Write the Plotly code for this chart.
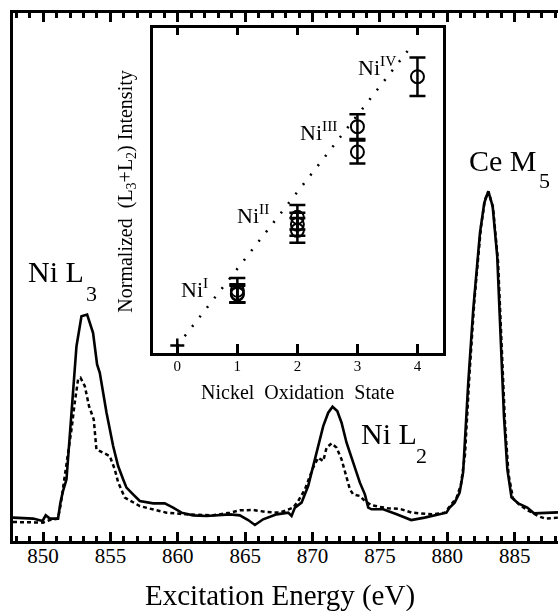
import plotly.graph_objects as go

# ---------------- main spectra (arbitrary intensity units) ----------------
solid_E = [847.77, 849.26, 849.96, 850.20, 850.50, 851.11, 851.29, 851.48, 851.74, 852.11,
           852.48, 852.85, 853.27, 853.71, 854.01, 854.21, 854.71, 855.20, 855.57, 855.94,
           856.19, 856.68, 857.18, 858.17, 859.03, 859.65, 860.27, 861.14, 862.13, 863.86,
           864.60, 865.22, 865.72, 866.33, 867.33, 868.19, 868.44, 868.69, 869.18, 869.67,
           870.04, 870.42, 870.79, 871.16, 871.48, 871.83, 872.15, 872.52, 873.01, 873.51,
           873.88, 874.13, 874.38, 875.24, 876.24, 877.32, 878.31, 879.55, 879.93, 880.17,
           880.54, 880.91, 881.17, 881.55, 881.92, 882.42, 882.74, 883.04, 883.36, 883.70,
           883.96, 884.20, 884.45, 884.76, 885.26, 885.93, 886.43, 887.22, 888.21]
solid_I = [4.43, 4.24, 3.79, 4.86, 4.24, 4.24, 7.27, 9.46, 11.68, 24.30,
           36.90, 42.58, 42.90, 39.44, 33.44, 31.87, 24.30, 17.98, 14.19, 11.68,
           10.11, 8.84, 7.57, 7.13, 7.13, 6.32, 5.37, 4.86, 4.73, 5.05,
           4.86, 3.97, 3.03, 4.11, 5.05, 5.37, 4.73, 6.32, 7.27, 10.41,
           14.19, 17.98, 21.76, 24.30, 25.43, 24.60, 22.41, 18.62, 14.84, 11.05,
           8.84, 6.32, 6.00, 6.00, 5.05, 3.97, 4.43, 5.19, 5.37, 6.32,
           7.27, 9.16, 13.00, 29.98, 43.85, 58.36, 64.04, 66.24, 63.40, 53.94,
           39.44, 23.66, 13.57, 8.27, 7.10, 6.32, 5.24, 5.37, 5.43]

dashed_E = [847.77, 849.26, 850.00, 850.50, 851.11, 851.31, 851.74, 852.11, 852.35, 852.60,
            852.78, 853.10, 853.41, 853.76, 853.96, 854.45, 854.95, 855.32, 855.57, 856.07,
            856.56, 857.18, 857.92, 859.16, 860.65, 862.62, 863.86, 864.60, 865.59, 866.58,
            867.57, 868.56, 868.93, 869.43, 870.04, 870.42, 870.79, 871.04, 871.41, 871.78,
            872.15, 872.52, 872.77, 873.01, 873.51, 873.88, 874.38, 875.59, 876.48, 877.37,
            878.86, 879.82, 880.23, 880.69, 881.01, 881.31, 881.64, 882.01, 882.49, 882.79,
            883.05, 883.39, 883.76, 884.02, 884.28, 884.54, 884.87, 885.32, 885.84, 886.73,
            887.25, 888.21]
dashed_I = [3.60, 3.60, 3.48, 3.97, 4.24, 6.95, 14.19, 21.14, 26.19, 30.60,
            30.92, 29.33, 25.55, 23.03, 17.35, 16.73, 16.09, 13.57, 11.11, 8.21,
            7.57, 6.62, 6.13, 5.37, 5.05, 4.86, 5.37, 5.81, 5.87, 5.49,
            5.37, 6.32, 7.57, 9.78, 13.89, 15.78, 15.14, 17.68, 18.49, 17.68,
            15.46, 12.30, 9.78, 8.84, 8.52, 7.57, 6.76, 6.19, 6.09, 5.37,
            5.05, 5.37, 6.62, 8.21, 10.73, 16.41, 31.55, 45.74, 59.37, 64.67,
            66.18, 63.15, 52.93, 38.17, 22.09, 12.62, 8.08, 6.95, 6.00, 4.73,
            4.24, 4.43]

energy_ticks = [850, 855, 860, 865, 870, 875, 880, 885]

# ---------------- inset data ----------------
ox_state = [1, 1, 1, 2, 2, 2, 3, 3, 4]
norm_int = [0.72, 0.68, 0.67, 1.67, 1.58, 1.50, 2.85, 2.52, 3.50]
norm_err = [0.16, 0.12, 0.11, 0.16, 0.15, 0.16, 0.16, 0.15, 0.25]
origin_x = [0]
origin_y = [0]
fit_x = [0, 3.92]
fit_y = [0, 3.92]
inset_ticks = [0, 1, 2, 3, 4]

SERIF = "Liberation Serif, Times New Roman, serif"
BLK = "black"
E_RANGE = [847.77, 888.21]
OX_RANGE = [-0.41, 4.42]

fig = go.Figure()
fig.add_trace(go.Scatter(x=dashed_E, y=dashed_I, mode="lines",
                         line=dict(color=BLK, width=2.5, dash="4px,3px"), showlegend=False))
fig.add_trace(go.Scatter(x=solid_E, y=solid_I, mode="lines",
                         line=dict(color=BLK, width=2.6), showlegend=False))
# invisible copy so that the top (mirror) tick axis is drawn
fig.add_trace(go.Scatter(x=solid_E, y=solid_I, mode="lines", xaxis="x3", yaxis="y",
                         opacity=0, hoverinfo="skip", showlegend=False))

fig.add_trace(go.Scatter(x=fit_x, y=fit_y, mode="lines", xaxis="x2", yaxis="y2",
                         line=dict(color=BLK, width=2.5, dash="2px,10px"), showlegend=False))
fig.add_trace(go.Scatter(x=ox_state, y=norm_int, mode="markers", xaxis="x2", yaxis="y2",
                         marker=dict(symbol="circle-open", size=13, color=BLK, line=dict(width=2, color=BLK)),
                         error_y=dict(type="data", array=norm_err, visible=True, color=BLK,
                                      thickness=2.5, width=8),
                         showlegend=False))
fig.add_trace(go.Scatter(x=origin_x, y=origin_y, mode="markers", xaxis="x2", yaxis="y2",
                         marker=dict(symbol="cross-thin", size=10, color=BLK, line=dict(width=2.5, color=BLK)),
                         showlegend=False))
fig.add_trace(go.Scatter(x=ox_state, y=norm_int, mode="markers", xaxis="x4", yaxis="y2",
                         opacity=0, hoverinfo="skip", showlegend=False))

fig.update_layout(
    width=558, height=611,
    margin=dict(l=13, r=0, t=13, b=70),
    paper_bgcolor="white", plot_bgcolor="white",
    font=dict(family=SERIF, color=BLK),
    xaxis=dict(range=E_RANGE, domain=[0, 1], showgrid=False, zeroline=False,
               showline=True, linewidth=3, linecolor=BLK, mirror=True,
               ticks="inside", ticklen=9, tickwidth=2.5, tickcolor=BLK,
               tickvals=energy_ticks, tickfont=dict(size=21, family=SERIF),
               ticklabelstandoff=-6,
               minor=dict(dtick=1, tick0=850, ticks="inside", ticklen=5, tickwidth=2.5, tickcolor=BLK)),
    xaxis3=dict(range=E_RANGE, overlaying="x", anchor="y", side="top",
                showgrid=False, zeroline=False, showline=False, showticklabels=False,
                ticks="inside", ticklen=9, tickwidth=2.5, tickcolor=BLK, tickvals=energy_ticks,
                minor=dict(dtick=1, tick0=850, ticks="inside", ticklen=5, tickwidth=2.5, tickcolor=BLK)),
    yaxis=dict(range=[0, 100], domain=[0, 1], showgrid=False, zeroline=False,
               showline=True, linewidth=3, linecolor=BLK, mirror=False,
               ticks="", showticklabels=False),
    xaxis2=dict(range=OX_RANGE, domain=[0.2563, 0.7884], anchor="y2",
                showgrid=False, zeroline=False,
                showline=True, linewidth=3, linecolor=BLK, mirror=True,
                ticks="inside", ticklen=9, tickwidth=2.5, tickcolor=BLK,
                tickvals=inset_ticks, tickfont=dict(size=15, family=SERIF),
                ticklabelstandoff=-3),
    xaxis4=dict(range=OX_RANGE, overlaying="x2", anchor="y2", side="top",
                showgrid=False, zeroline=False, showline=False, showticklabels=False,
                ticks="inside", ticklen=7, tickwidth=2.5, tickcolor=BLK, tickvals=inset_ticks),
    yaxis2=dict(range=[-0.10, 4.13], domain=[0.3555, 0.9710], anchor="x2",
                showgrid=False, zeroline=False,
                showline=True, linewidth=3, linecolor=BLK, mirror=True,
                ticks="", showticklabels=False),
)

def ann(text, x, y, size, xanchor="left", yanchor="middle", ref="paper", angle=0):
    if ref == "paper":
        xr, yr = "paper", "paper"
    else:
        xr, yr = "x2", "y2"
    fig.add_annotation(text=text, x=x, y=y, xref=xr, yref=yr, showarrow=False,
                       xanchor=xanchor, yanchor=yanchor, textangle=angle,
                       font=dict(size=size, family=SERIF, color=BLK))

# main peak labels
ann("Ni L", 0.0230, 0.5104, 30)
ann("3", 0.1303, 0.4688, 22)
ann("Ni L", 0.6350, 0.2036, 30)
ann("2", 0.7358, 0.1619, 22)
ann("Ce M", 0.8330, 0.7197, 30)
ann("5", 0.9615, 0.6828, 22)

# axis titles
ann("Excitation Energy (eV)", 0.49, -0.1023, 29, xanchor="center")
ann("Nickel&nbsp; Oxidation&nbsp; State", 0.5224, 0.2828, 20, xanchor="center")
ann("Normalized&nbsp; (L<sub>3</sub>+L<sub>2</sub>) Intensity", 0.2086, 0.661, 20,
    xanchor="center", angle=-90)

# oxidation-state labels in the inset
ann("Ni<sup>I</sup>", 0.545, 0.75, 22, xanchor="right", ref="inset")
ann("Ni<sup>II</sup>", 1.56, 1.71, 22, xanchor="right", ref="inset")
ann("Ni<sup>III</sup>", 2.70, 2.79, 22, xanchor="right", ref="inset")
ann("Ni<sup>IV</sup>", 3.68, 3.64, 22, xanchor="right", ref="inset")

fig.write_html("out.html")
